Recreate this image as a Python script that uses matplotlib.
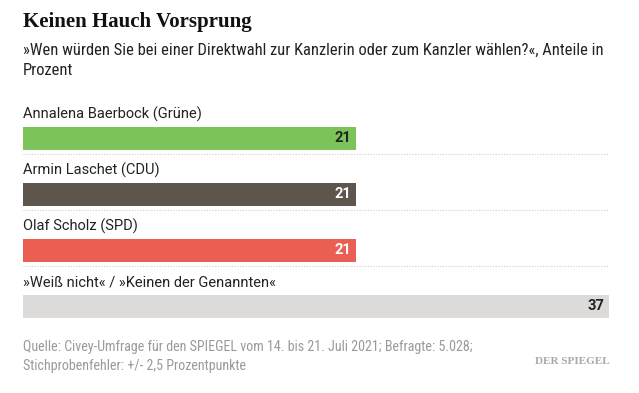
import matplotlib
matplotlib.use("Agg")
import matplotlib.pyplot as plt
from matplotlib import font_manager

categories = ["Annalena Baerbock (Grüne)", "Armin Laschet (CDU)", "Olaf Scholz (SPD)",
              "»Weiß nicht« / »Keinen der Genannten«"]
values = [21, 21, 21, 37]
colors = ["#7cc45a", "#5e554d", "#ea5f51", "#dddbd9"]
value_colors = ["#222222", "#ffffff", "#ffffff", "#222222"]

title = "Keinen Hauch Vorsprung"
subtitle = "»Wen würden Sie bei einer Direktwahl zur Kanzlerin oder zum Kanzler wählen?«, Anteile in\nProzent"
footer = ("Quelle: Civey-Umfrage für den SPIEGEL vom 14. bis 21. Juli 2021; Befragte: 5.028;\n"
          "Stichprobenfehler: +/- 2,5 Prozentpunkte")

installed = {f.name for f in font_manager.fontManager.ttflist}


def pick(*names):
    for n in names:
        if n in installed:
            return n
    return "DejaVu Sans"


narrow = pick("Roboto Condensed", "Liberation Sans Narrow", "Open Sans Condensed", "Roboto")
regular = pick("Roboto", "Liberation Sans", "DejaVu Sans")
slab = pick("Liberation Serif", "DejaVu Serif")

W, H = 639, 393
fig = plt.figure(figsize=(W / 100, H / 100), dpi=100)
fig.patch.set_facecolor("white")

fig.text(23 / W, 1 - 22 / H, title, fontsize=15, fontweight="bold", family=slab,
         color="#111111", va="center", ha="left")
fig.text(23 / W, 1 - 43 / H, subtitle, fontsize=11.9, family=narrow, color="#222222",
         va="top", ha="left", linespacing=1.45)

# chart area: rows of 56 px between y=98 and y=322
ax = fig.add_axes([23 / W, (H - 322) / H, 586 / W, 224 / H])
ax.set_xlim(0, max(values))
ax.set_ylim(len(values), 0)
ax.axis("off")

for i, (cat, val) in enumerate(zip(categories, values)):
    yc = i + 0.723
    ax.barh(yc, val, height=0.41, color=colors[i], left=0)
    ax.text(0, i + 0.286, cat, fontsize=10.5, family=regular, color="#222222",
            va="center", ha="left")
    ax.text(val - 0.3, yc, str(val), fontsize=10.5, fontweight="bold", family=regular,
            color=value_colors[i], va="center", ha="right")
    if i < len(values) - 1:
        ax.axhline(i + 1, color="#cccccc", lw=0.8, ls=(0, (1, 1.5)))

fig.text(23 / W, 1 - 340 / H, footer, fontsize=10.1, family=narrow, color="#9a9a9a",
         va="top", ha="left", linespacing=1.45)
fig.text(610 / W, 1 - 362 / H, "DER SPIEGEL", fontsize=8, fontweight="bold",
         family=slab, color="#a8a8a8", va="center", ha="right")

fig.savefig("out.png", dpi=100, facecolor="white")
